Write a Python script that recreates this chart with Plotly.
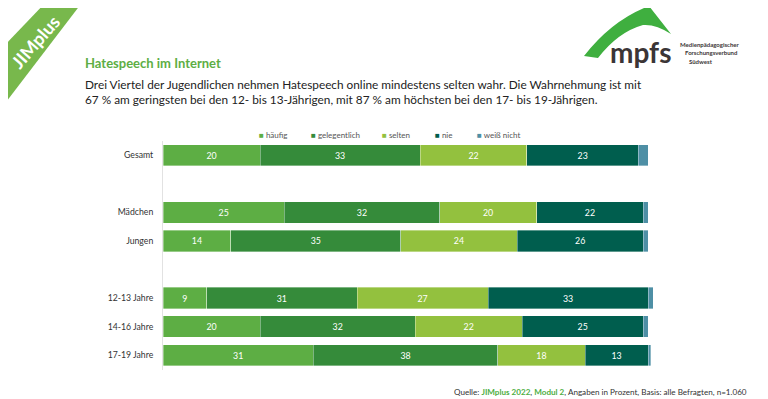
import plotly.graph_objects as go

# The page body has an 8px margin, so the figure is drawn 8px smaller and all
# layout coordinates below are given in screenshot pixels and shifted.
OFF = 8
W, H = 768 - OFF, 399 - OFF

categories = ["Gesamt", "Mädchen", "Jungen", "12-13 Jahre", "14-16 Jahre", "17-19 Jahre"]
row_pos = [0, 2, 3, 5, 6, 7]

series_names = ["häufig", "gelegentlich", "selten", "nie", "weiß nicht"]
haeufig = [20, 25, 14, 9, 20, 31]
gelegentlich = [33, 32, 35, 31, 32, 38]
selten = [22, 20, 24, 27, 22, 18]
nie = [23, 22, 26, 33, 25, 13]
weiss_nicht = [2, 1, 1, 1, 1, 0.5]
series_values = [haeufig, gelegentlich, selten, nie, weiss_nicht]
colors = ["#5DAE44", "#358B3A", "#93C13E", "#005E4E", "#4E8FA5"]

FONT = "Lato"

def px(x):
    return (x - OFF) / W

def py(y):
    return 1 - (y - OFF) / H

fig = go.Figure()
for name, vals, col in zip(series_names, series_values, colors):
    show_text = name != "weiß nicht"
    fig.add_trace(go.Bar(
        y=row_pos, x=vals, name=name, orientation="h",
        marker=dict(color=col, line=dict(width=0.6, color="rgba(255,255,255,0.6)")),
        width=0.75,
        text=[str(v) for v in vals] if show_text else None,
        textposition="inside" if show_text else "none",
        insidetextanchor="middle",
        textfont=dict(family=FONT, size=8.8, color="white"),
        hoverinfo="x+name",
    ))

fig.update_layout(
    width=W, height=H,
    barmode="stack",
    showlegend=False,
    paper_bgcolor="white", plot_bgcolor="white",
    margin=dict(l=0, r=0, t=0, b=0),
    font=dict(family=FONT, color="#333333"),
    xaxis=dict(domain=[px(163), px(653)], range=[0, 101], visible=False, fixedrange=True),
    yaxis=dict(domain=[py(369.5), py(141)], range=[7.5, -0.5],
               tickvals=row_pos, ticktext=categories,
               tickfont=dict(family=FONT, size=8.7, color="#333333"),
               ticks="outside", ticklen=7, tickcolor="rgba(0,0,0,0)",
               showline=True, linecolor="#e2e2e2", linewidth=1,
               showgrid=False, zeroline=False, fixedrange=True),
    uniformtext=dict(minsize=6, mode="show"),
)

shapes = []
annotations = []

# JIMplus banner stripe
shapes.append(dict(type="path", xref="paper", yref="paper",
                   path=f"M {px(48)},{py(0)} L {px(84)},{py(0)} L {px(0)},{py(110)} L {px(0)},{py(50)} Z",
                   fillcolor="#78B84C", line=dict(width=0)))
annotations.append(dict(x=px(35), y=py(42), xref="paper", yref="paper", text="<b>JIMplus</b>",
                        showarrow=False, textangle=-49, xanchor="center", yanchor="middle",
                        font=dict(family=FONT, size=18, color="white")))

# mpfs logo swoosh
shapes.append(dict(type="path", xref="paper", yref="paper",
                   path=(f"M {px(584)},{py(56)} Q {px(612)},{py(20)} {px(649)},{py(6)} "
                         f"L {px(671)},{py(34)} Q {px(656)},{py(24)} {px(643)},{py(25)} "
                         f"Q {px(618)},{py(32)} {px(598)},{py(58)} Z"),
                   fillcolor="#3FAF3F", line=dict(width=0)))
annotations.append(dict(x=px(640), y=py(52), xref="paper", yref="paper", text="<b>mpfs</b>",
                        showarrow=False, xanchor="center", yanchor="middle",
                        font=dict(family=FONT, size=28, color="#3B3536")))
for i, t in enumerate(["Medienpädagogischer", "Forschungsverbund", "Südwest"]):
    annotations.append(dict(x=px([678, 683, 687][i]), y=py(44 + 8.5 * i), xref="paper", yref="paper",
                            text=f"<b>{t}</b>", showarrow=False, xanchor="left", yanchor="middle",
                            font=dict(family=FONT, size=6, color="#3B3536")))

# title and subtitle
annotations.append(dict(x=px(83), y=py(63), xref="paper", yref="paper", xanchor="left", yanchor="middle",
                        text="<b>Hatespeech im Internet</b>", showarrow=False,
                        font=dict(family=FONT, size=13, color="#5DAE44")))
annotations.append(dict(x=px(83), y=py(92), xref="paper", yref="paper", xanchor="left", yanchor="middle",
                        align="left",
                        text=("Drei Viertel der Jugendlichen nehmen Hatespeech online mindestens selten wahr. Die Wahrnehmung ist mit<br>"
                              "67 % am geringsten bei den 12- bis 13-Jährigen, mit 87 % am höchsten bei den 17- bis 19-Jährigen."),
                        showarrow=False,
                        font=dict(family=FONT, size=11.8, color="#222222")))

# legend (manual)
leg_x = [257, 309, 380, 433, 475]
for name, col, lx in zip(series_names, colors, leg_x):
    annotations.append(dict(x=px(lx), y=py(135), xref="paper", yref="paper", xanchor="left", yanchor="middle",
                            text=f"<span style='color:{col}'>■</span> {name}", showarrow=False,
                            font=dict(family=FONT, size=8, color="#555555")))

# source
annotations.append(dict(x=px(749), y=py(392), xref="paper", yref="paper", xanchor="right", yanchor="middle",
                        text=("Quelle: <span style='color:#4DAE3F'><b>JIMplus 2022</b></span>, "
                              "<span style='color:#4DAE3F'><b>Modul 2</b></span>, Angaben in Prozent, "
                              "Basis: alle Befragten, n=1.060"),
                        showarrow=False, font=dict(family=FONT, size=8.1, color="#333333")))

fig.update_layout(shapes=shapes, annotations=annotations)
fig.write_html("out.html")
